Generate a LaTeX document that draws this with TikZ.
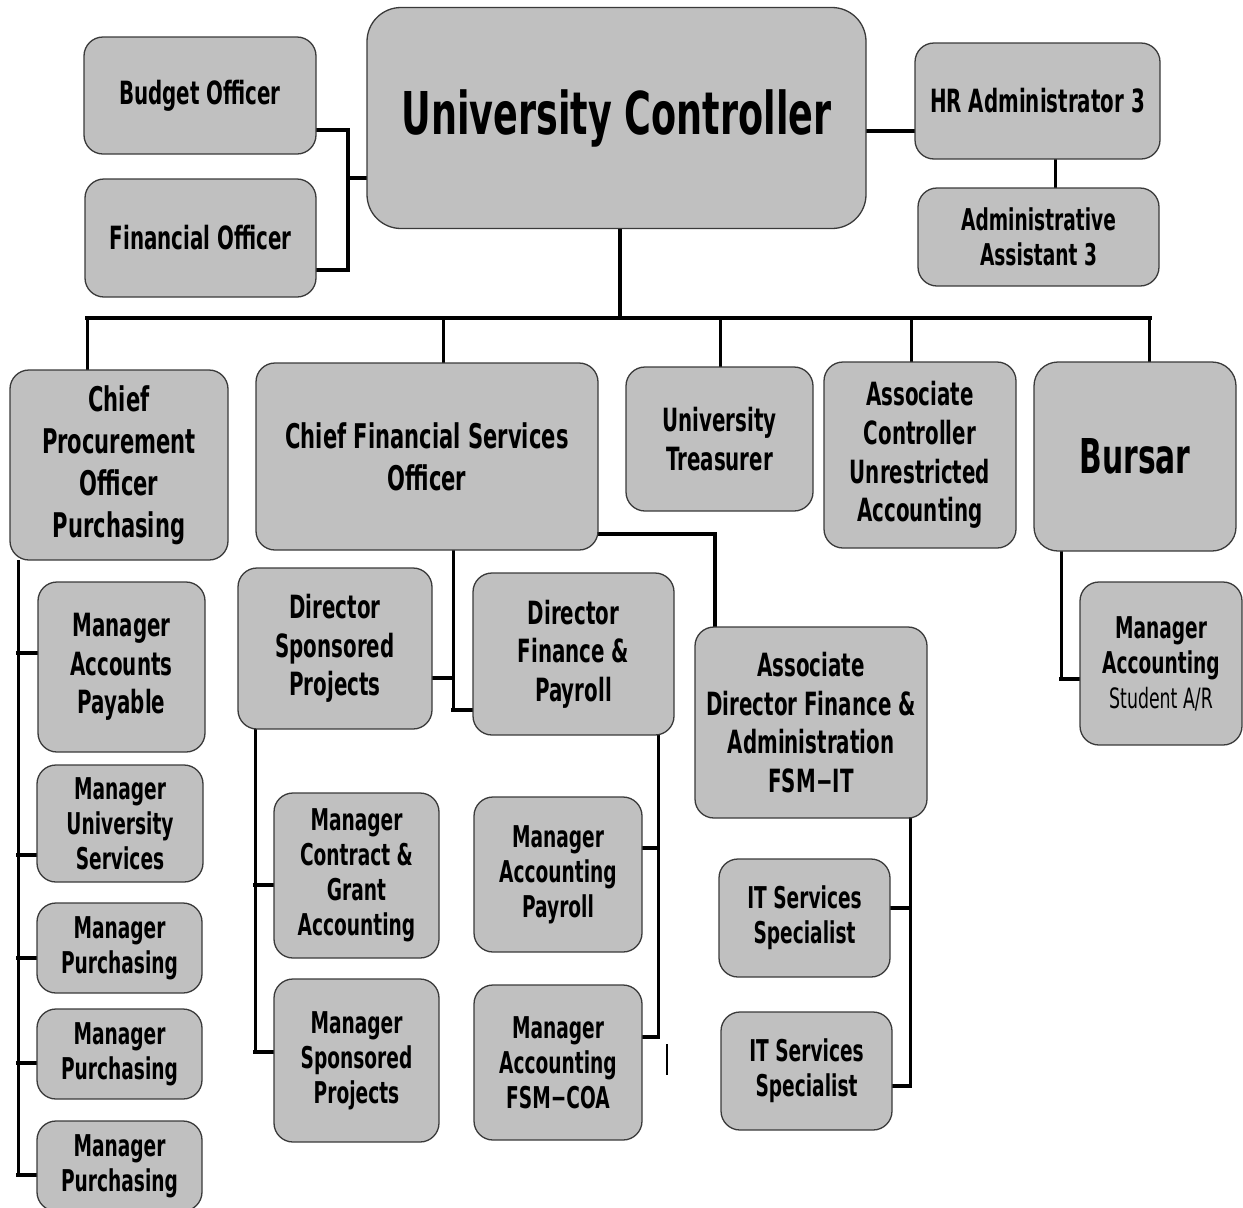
\documentclass[tikz,border=0pt]{standalone}
\usepackage{fontspec}
\setmainfont{DejaVu Sans}[FakeStretch=0.62]
\usetikzlibrary{positioning}
\pgfdeclarelayer{background}
\pgfsetlayers{background,main}
\definecolor{boxgray}{RGB}{192,192,192}
\definecolor{edgegray}{RGB}{58,58,58}
% type sizes for the different tiers of posts
\newcommand\ucfont{\fontsize{59}{62}\selectfont\bfseries}
\newcommand\bursarfont{\fontsize{48}{52}\selectfont\bfseries}
\newcommand\chieffont{\fontsize{34}{42}\selectfont\bfseries}
\newcommand\dirfont{\fontsize{32}{38.7}\selectfont\bfseries}
\newcommand\topfont{\fontsize{32}{38}\selectfont\bfseries}
\newcommand\mgrfont{\fontsize{30}{35}\selectfont\bfseries}
\newcommand\mgrlight{\fontsize{28}{35}\selectfont\mdseries}
\tikzset{
  post/.style={draw=edgegray, fill=boxgray, line width=1.3pt, rounded corners=19pt,
    align=center, inner sep=0pt, outer sep=0pt, text=black},
  wire/.style={line width=3.6pt, line join=miter, line cap=rect},
}
\begin{document}
\begin{tikzpicture}[x=1pt,y=-1pt]
\useasboundingbox (0,0) rectangle (1243,1208);
\clip (0,0) rectangle (1243,1208);

% top tier
\node[post, rounded corners=34pt, minimum width=499, minimum height=221, font=\ucfont] (uc) at (616.5,118) {University Controller};
\node[post, minimum width=232, minimum height=117, font=\topfont] (bud) at (200,95.5) {Budget Officer};
\node[post, minimum width=231, minimum height=118, font=\topfont] (fin) at (200.5,238) {Financial Officer};
\node[post, minimum width=245, minimum height=116, font=\topfont] (hr) at (1037.5,101) {HR Administrator 3};
\node[post, minimum width=241, minimum height=98, font=\mgrfont] (aa) at (1038.5,237) {Administrative\\Assistant 3};

% second tier
\node[post, minimum width=218, minimum height=190, font=\chieffont] (cpo) at (119,465) {Chief\\Procurement\\Officer\\Purchasing};
\node[post, minimum width=342, minimum height=187, font=\chieffont] (cfso) at (427,456.5) {Chief Financial Services\\Officer};
\node[post, minimum width=187, minimum height=144, font=\dirfont] (ut) at (719.5,439) {University\\Treasurer};
\node[post, minimum width=192, minimum height=186, font=\dirfont] (acua) at (920,455) {Associate\\Controller\\Unrestricted\\Accounting};
\node[post, rounded corners=24pt, minimum width=202, minimum height=189, font=\bursarfont] (bursar) at (1135,456.5) {Bursar};

% procurement branch
\node[post, minimum width=167, minimum height=170, font=\dirfont] (map) at (121.5,667) {Manager\\Accounts\\Payable};
\node[post, minimum width=166, minimum height=117, font=\mgrfont] (mus) at (120,823.5) {Manager\\University\\Services};
\node[post, minimum width=165, minimum height=90, font=\mgrfont] (mpa) at (119.5,948) {Manager\\Purchasing};
\node[post, minimum width=165, minimum height=90, font=\mgrfont] (mpb) at (119.5,1054) {Manager\\Purchasing};
\node[post, minimum width=165, minimum height=90, font=\mgrfont] (mpc) at (119.5,1166) {Manager\\Purchasing};

% financial services branch
\node[post, minimum width=194, minimum height=161, font=\dirfont] (dsp) at (335,648.5) {Director\\Sponsored\\Projects};
\node[post, minimum width=201, minimum height=162, font=\dirfont] (dfp) at (573.5,654) {Director\\Finance \&\\Payroll};
\node[post, minimum width=232, minimum height=191, font=\dirfont] (adfa) at (811,722.5) {Associate\\Director Finance \&\\Administration\\FSM\textminus IT};
\node[post, minimum width=165, minimum height=165, font=\mgrfont] (mcga) at (356.5,875.5) {Manager\\Contract \&\\Grant\\Accounting};
\node[post, minimum width=165, minimum height=163, font=\mgrfont] (msp) at (356.5,1060.5) {Manager\\Sponsored\\Projects};
\node[post, minimum width=168, minimum height=155, font=\mgrfont] (mapay) at (558,874.5) {Manager\\Accounting\\Payroll};
\node[post, minimum width=168, minimum height=155, font=\mgrfont] (mafsm) at (558,1062.5) {Manager\\Accounting\\FSM\textminus COA};
\node[post, minimum width=171, minimum height=118, font=\mgrfont] (itsa) at (804.5,918) {IT Services\\Specialist};
\node[post, minimum width=171, minimum height=118, font=\mgrfont] (itsb) at (806.5,1071) {IT Services\\Specialist};

% bursar branch
\node[post, minimum width=162, minimum height=163, font=\mgrfont] (masar) at (1161,663.5) {Manager\\Accounting\\{\mgrlight Student A/R}};

\begin{pgfonlayer}{background}
  % staff beside the controller
  \draw[wire] (bud.east |- 0,130) -- (348,130) -- (348,270) -- (fin.east |- 0,270);
  \draw[wire] (348,178) -- (uc.west |- 0,178);
  \draw[wire] (uc.east |- 0,131) -- (hr.west |- 0,131);
  \draw[line width=3pt] (hr.south -| 1055,0) -- (aa.north -| 1055,0);
  % main bus
  \coordinate (bus) at (620,318);
  \draw[wire] (uc.south -| bus) -- (bus);
  \draw[wire] (87,318) -- (1150,318);
  \draw[line width=3pt] (87,318) -- (cpo.north -| 87,0);
  \draw[line width=3pt] (443,318) -- (cfso.north -| 443,0);
  \draw[line width=3pt] (720,318) -- (ut.north -| 720,0);
  \draw[line width=3pt] (911,318) -- (acua.north -| 911,0);
  \draw[line width=3pt] (1149,318) -- (bursar.north -| 1149,0);
  % procurement spine
  \draw[line width=3pt] (cpo.south -| 18,0) -- (18,1176);
  \draw[wire] (18,653) -- (map.west |- 0,653);
  \draw[wire] (18,855) -- (mus.west |- 0,855);
  \draw[wire] (18,958) -- (mpa.west |- 0,958);
  \draw[wire] (18,1063) -- (mpb.west |- 0,1063);
  \draw[wire] (18,1175) -- (mpc.west |- 0,1175);
  % financial services
  \draw[line width=3pt] (cfso.south -| 453,0) -- (453,710);
  \draw[wire] (dsp.east |- 0,678) -- (453,678);
  \draw[wire] (453,710) -- (dfp.west |- 0,710);
  \draw[wire] (cfso.east |- 0,534) -- (715,534) -- (adfa.north -| 715,0);
  \draw[line width=3pt] (dsp.south -| 255,0) -- (255,1054);
  \draw[wire] (255,885) -- (mcga.west |- 0,885);
  \draw[wire] (255,1052) -- (msp.west |- 0,1052);
  \draw[line width=3pt] (dfp.south -| 658,0) -- (658,1037);
  \draw[wire] (mapay.east |- 0,848) -- (658,848);
  \draw[wire] (mafsm.east |- 0,1037) -- (658,1037);
  \draw[line width=1.5pt] (667,1044) -- (667,1075);
  \draw[line width=3pt] (adfa.south -| 910,0) -- (910,1086);
  \draw[wire] (itsa.east |- 0,908) -- (910,908);
  \draw[wire] (itsb.east |- 0,1086) -- (910,1086);
  % bursar
  \draw[line width=3pt] (bursar.south -| 1061,0) -- (1061,679);
  \draw[wire] (1061,679) -- (masar.west |- 0,679);
\end{pgfonlayer}
\end{tikzpicture}
\end{document}
